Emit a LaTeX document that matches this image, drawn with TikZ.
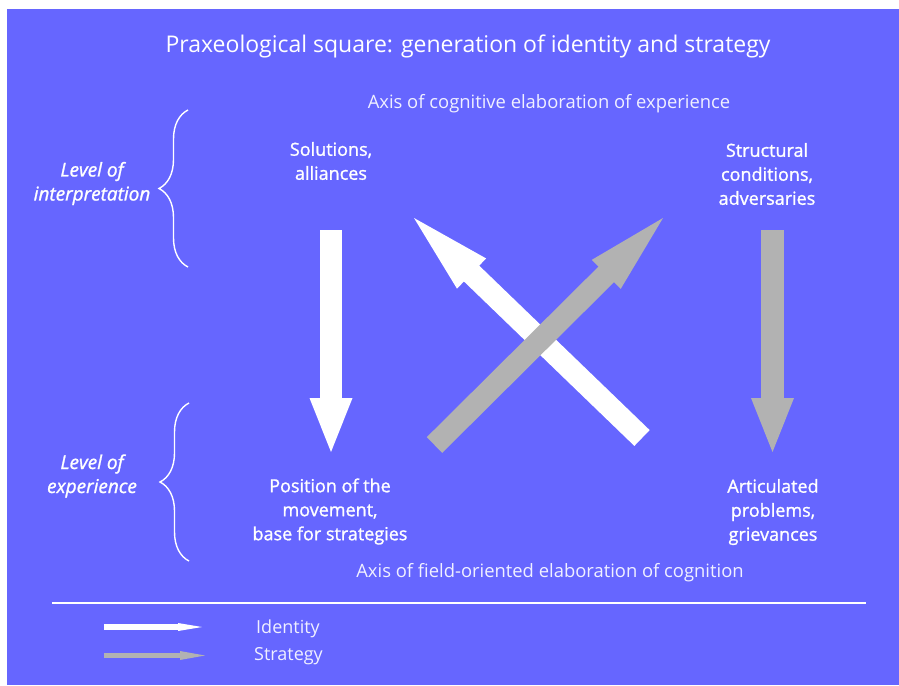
\documentclass[tikz,border=0pt]{standalone}
\usepackage{fontspec}
\setmainfont{Open Sans}
\newfontfamily\semibfont[FakeBold=1.2]{Open Sans}
\usetikzlibrary{calc,decorations.pathreplacing}
\definecolor{bgblue}{HTML}{6666FF}
\definecolor{arrgray}{HTML}{B2B2B2}
\definecolor{axistext}{HTML}{F0F0FF}
\newcommand\fatarrow[6]{% color, start, end, shaft width, head length, head half width
  \draw[#1, line width=#4] (#2) -- ($(#3)!#5-1pt!(#2)$);
  \fill[#1] (#3) -- ($(#3)!#5!(#2)!#6!90:(#3)$) -- ($(#3)!#5!(#2)!#6!-90:(#3)$) -- cycle;
}
\begin{document}
\begin{tikzpicture}[x=1pt,y=-1pt,
  title/.style={text=white, font=\fontsize{23}{28}\selectfont, inner sep=0pt},
  axis/.style={text=axistext, font=\fontsize{18.4}{22}\selectfont, inner sep=0pt},
  label/.style={text=white, align=center, font=\semibfont\fontsize{18}{24}\selectfont, inner sep=0pt},
  level/.style={text=white, align=center, font=\semibfont\fontsize{19}{24}\selectfont\itshape, inner sep=0pt},
  legend/.style={text=axistext, font=\fontsize{18}{20}\selectfont, inner sep=0pt, anchor=west},
  bracestyle/.style={white, line width=1.4pt, decorate, decoration={brace, amplitude=29pt}}]
\useasboundingbox (0,0) rectangle (899,685);
\fill[bgblue] (7,9) rectangle (899,685);
% texts
\node[title] (ttl) at (468,46) {Praxeological square: generation of identity and strategy};
\node[axis] (axtop) at (549,104) {Axis of cognitive elaboration of experience};
\node[axis] (axbot) at (550,572.5) {Axis of field-oriented elaboration of cognition};
\node[label] (sol) at (331,161) {Solutions,\\alliances};
\node[label] (str) at (767,174) {Structural\\conditions,\\adversaries};
\node[label] (pos) at (330,511.5) {Position of the\\movement,\\base for strategies};
\node[label] (art) at (773,512) {Articulated\\problems,\\grievances};
\node[level] (lint) at (92,183.5) {Level of\\interpretation};
\node[level] (lexp) at (92,476) {Level of\\experience};
% braces
\coordinate (b1a) at (188,267); \coordinate (b1b) at (188,110);
\coordinate (b2a) at (189,561); \coordinate (b2b) at (189,403);
\draw[bracestyle] (b1a) -- (b1b);
\draw[bracestyle] (b2a) -- (b2b);
% arrows
\coordinate (wds) at (331,230); \coordinate (wde) at (331,452);
\coordinate (gds) at (772.5,230); \coordinate (gde) at (772.5,452);
\coordinate (wxs) at (642,438); \coordinate (wxe) at (414,218);
\coordinate (gxs) at (434.5,445); \coordinate (gxe) at (663,218);
\fatarrow{white}{wds}{wde}{22.5pt}{54pt}{21.5pt}
\fatarrow{arrgray}{gds}{gde}{22.5pt}{54pt}{21.5pt}
\fatarrow{white}{wxs}{wxe}{22pt}{80pt}{21pt}
\fatarrow{arrgray}{gxs}{gxe}{22pt}{80pt}{20.5pt}
% separator
\coordinate (sepl) at (52,603); \coordinate (sepr) at (866,603);
\draw[white, line width=1.5pt] (sepl) -- (sepr);
% legend
\coordinate (l1s) at (104,627); \coordinate (l1e) at (202,627);
\coordinate (l2s) at (104,655.5); \coordinate (l2e) at (205,655.5);
\fatarrow{white}{l1s}{l1e}{5.5pt}{24pt}{4pt}
\fatarrow{arrgray}{l2s}{l2e}{5pt}{25pt}{4.5pt}
\node[legend] (lid) at (256,629) {Identity};
\node[legend] (lst) at (254,656) {Strategy};
\end{tikzpicture}
\end{document}
